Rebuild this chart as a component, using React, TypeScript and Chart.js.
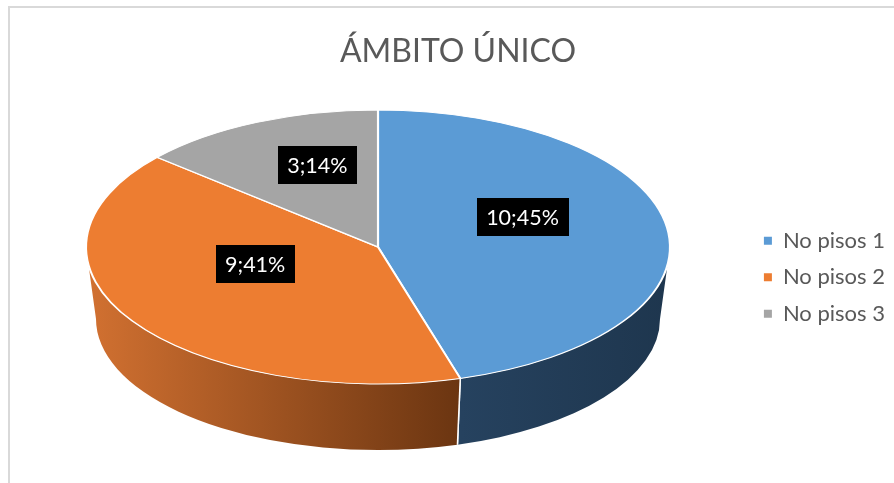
import { useEffect, useRef } from 'react';
import { Chart, registerables } from 'chart.js';

Chart.register(...registerables);

// ---- data ----
const categories = ['No pisos 1', 'No pisos 2', 'No pisos 3'];
const values = [10, 9, 3];
const titleText = 'ÁMBITO ÚNICO';

// ---- styles ----
const topColors = ['#5B9BD5', '#ED7D31', '#A5A5A5'];
const sideColors = [
  ['#26425F', '#1E364E'],
  ['#D27131', '#6B3511'],
  ['#7C7C7C', '#5A5A5A'],
];
const ELLIPSE = { cx: 378, cy: 247, rx: 292, ry: 137, depth: 72, bottomRx: 282, bottomRy: 131 };
const LABEL_R = 0.5;
const LABEL_LIFT = 20;
const FONT = 'Lato, "Open Sans", sans-serif';

const pie3d = {
  id: 'pie3d',
  beforeDraw(chart: any) {
    const ctx = chart.ctx;
    ctx.save();
    ctx.fillStyle = '#D9D9D9';
    ctx.fillRect(8, 6, 2, chart.height);
    ctx.fillRect(8, 6, chart.width, 2);
    ctx.restore();
  },
  beforeDatasetsDraw(chart: any) {
    const ctx = chart.ctx;
    const meta = chart.getDatasetMeta(0);
    const E = ELLIPSE;
    const first = meta.data[0].getProps(['x', 'y', 'outerRadius'], true);
    // side walls (front half only)
    meta.data.forEach((arc: any, i: number) => {
      const { startAngle: s, endAngle: e } = arc.getProps(['startAngle', 'endAngle'], true);
      [-2 * Math.PI, 0, 2 * Math.PI].forEach((k) => {
        const lo = Math.max(s, k);
        const hi = Math.min(e, k + Math.PI);
        if (hi <= lo) return;
        const xA = E.cx + E.rx * Math.cos(hi);
        const xB = E.cx + E.rx * Math.cos(lo);
        const g = ctx.createLinearGradient(Math.min(xA, xB), 0, Math.max(xA, xB), 0);
        g.addColorStop(0, sideColors[i][0]);
        g.addColorStop(1, sideColors[i][1]);
        ctx.save();
        ctx.beginPath();
        ctx.ellipse(E.cx, E.cy, E.rx, E.ry, 0, lo, hi);
        ctx.ellipse(E.cx, E.cy + E.depth, E.bottomRx, E.bottomRy, 0, hi, lo, true);
        ctx.closePath();
        ctx.fillStyle = g;
        ctx.fill();
        ctx.restore();
      });
      // white separators at boundaries visible in front
      [s, e].forEach((a) => {
        const n = ((a % (2 * Math.PI)) + 2 * Math.PI) % (2 * Math.PI);
        if (n > 0.01 && n < Math.PI - 0.01) {
          ctx.save();
          ctx.strokeStyle = '#FFFFFF';
          ctx.lineWidth = 1.5;
          ctx.beginPath();
          ctx.moveTo(E.cx + E.rx * Math.cos(n), E.cy + E.ry * Math.sin(n));
          ctx.lineTo(E.cx + E.bottomRx * Math.cos(n), E.cy + E.depth + E.bottomRy * Math.sin(n));
          ctx.stroke();
          ctx.restore();
        }
      });
    });
    // tilt the top face into an ellipse
    ctx.save();
    ctx.translate(E.cx, E.cy);
    ctx.scale(E.rx / first.outerRadius, E.ry / first.outerRadius);
    ctx.translate(-first.x, -first.y);
  },
  afterDatasetsDraw(chart: any) {
    const ctx = chart.ctx;
    ctx.restore();
    const meta = chart.getDatasetMeta(0);
    const E = ELLIPSE;
    const total = values.reduce((a, b) => a + b, 0);
    meta.data.forEach((arc: any, i: number) => {
      const { startAngle, endAngle } = arc.getProps(['startAngle', 'endAngle'], true);
      const mid = (startAngle + endAngle) / 2;
      const lx = E.cx + E.rx * LABEL_R * Math.cos(mid);
      const ly = E.cy + E.ry * LABEL_R * Math.sin(mid) - LABEL_LIFT;
      const text = `${values[i]};${Math.round((values[i] / total) * 100)}%`;
      ctx.save();
      ctx.font = `21.5px ${FONT}`;
      const w = ctx.measureText(text).width + 19;
      const h = 38;
      ctx.fillStyle = '#000000';
      ctx.fillRect(Math.round(lx - w / 2), Math.round(ly - h / 2), Math.round(w), h);
      ctx.fillStyle = '#FFFFFF';
      ctx.textAlign = 'center';
      ctx.textBaseline = 'middle';
      ctx.fillText(text, lx, ly + 1);
      ctx.restore();
    });
  },
};

export default function App() {
  const ref = useRef<HTMLCanvasElement | null>(null);
  useEffect(() => {
    if (!ref.current) return;
    const chart = new Chart(ref.current, {
      type: 'pie',
      data: {
        labels: categories,
        datasets: [
          {
            data: values,
            backgroundColor: topColors,
            borderColor: '#FFFFFF',
            borderWidth: 1.5,
            clip: false,
          } as any,
        ],
      },
      options: {
        responsive: false,
        animation: false,
        events: [],
        layout: { padding: { left: 21, right: -1, top: 0, bottom: 0 } },
        plugins: {
          title: {
            display: true,
            text: titleText,
            color: '#595959',
            font: { family: FONT, size: 32, weight: 'normal' },
            padding: { top: 32, bottom: 1 },
          },
          legend: {
            position: 'right',
            fullSize: false,
            labels: {
              boxWidth: 8,
              boxHeight: 8,
              padding: 14.5,
              color: '#595959',
              font: { family: FONT, size: 22 },
              generateLabels: () =>
                categories.map((c, i) => ({
                  text: c,
                  fillStyle: topColors[i],
                  strokeStyle: topColors[i],
                  lineWidth: 0,
                  hidden: false,
                  index: i,
                  fontColor: '#595959',
                })),
            },
          },
          tooltip: { enabled: false },
        },
      } as any,
      plugins: [pie3d],
    });
    return () => chart.destroy();
  }, []);
  return (
    <div style={{ position: 'fixed', left: 0, top: 0, width: 894, height: 483, background: '#FFFFFF' }}>
      <canvas ref={ref} width={894} height={483} style={{ display: 'block', width: 894, height: 483 }} />
    </div>
  );
}
